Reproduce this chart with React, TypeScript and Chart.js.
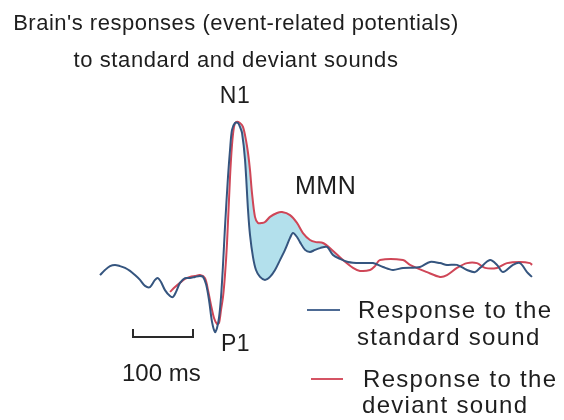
import React, { useEffect, useRef } from "react";
import { Chart, registerables } from "chart.js";

Chart.register(...registerables);

// time (ms) and amplitude (µV, negative up)
const standardTime = [-150, -141.7, -133.3, -125, -116.7, -108.3, -100, -91.7, -83.3, -75, -66.7, -58.3, -53.3, -48.3, -41.7, -33.3, -28.3, -23.3, -16.7, -8.3, 0, 8.3, 16.7, 21.7, 26.7, 31.7, 36.7, 41.7, 45, 48.3, 51.7, 55, 58.3, 63.3, 66.7, 70, 75, 80, 83.3, 86.7, 91.7, 96.7, 100, 105, 110, 116.7, 125, 133.3, 141.7, 150, 158.3, 166.7, 171.7, 178.3, 183.3, 191.7, 200, 208.3, 216.7, 228.3, 238.3, 250, 263.3, 283.3, 305, 321.7, 338.3, 355, 383.3, 400, 416.7, 428.3, 445, 461.7, 475, 483.3, 500, 511.7, 521.7, 538.3, 550, 561.7, 570];
const standardValues = [0.17, 0, -0.13, -0.17, -0.13, -0.07, 0.03, 0.17, 0.33, 0.53, 0.57, 0.33, 0.27, 0.4, 0.67, 0.87, 0.9, 0.73, 0.43, 0.27, 0.27, 0.23, 0.2, 0.23, 0.47, 1.0, 1.73, 2.07, 1.93, 1.6, 0.9, -0.17, -1.43, -3.1, -4.0, -4.67, -4.9, -4.9, -4.77, -4.57, -3.67, -2.0, -1.17, -0.43, 0, 0.23, 0.33, 0.23, 0, -0.33, -0.67, -1.07, -1.23, -1.1, -0.93, -0.67, -0.6, -0.67, -0.73, -0.77, -0.5, -0.37, -0.27, -0.23, -0.23, -0.1, 0, -0.07, -0.1, -0.27, -0.23, -0.17, -0.17, 0, 0.07, -0.07, -0.33, -0.17, 0.07, -0.17, -0.23, 0.07, 0.23];

const deviantTime = [-33.3, -25, -16.7, -8.3, 0, 8.3, 16.7, 25, 30, 35, 40, 45, 48.3, 51.7, 55, 58.3, 61.7, 66.7, 70, 73.3, 76.7, 83.3, 88.3, 93.3, 96.7, 100, 103.3, 108.3, 113.3, 120, 125, 133.3, 145, 153.3, 166.7, 178.3, 188.3, 200, 210, 221.7, 236.7, 255, 271.7, 283.3, 300, 308.3, 316.7, 355, 366.7, 395, 416.7, 428.3, 445, 461.7, 478.3, 491.7, 511.7, 528.3, 550, 566.7, 570];
const deviantValues = [0.73, 0.57, 0.43, 0.3, 0.23, 0.2, 0.17, 0.27, 0.67, 1.17, 1.6, 1.8, 1.77, 1.33, 0.9, 0.17, -0.9, -3.1, -4.17, -4.77, -4.93, -4.9, -4.77, -4.33, -3.9, -3.33, -2.57, -1.77, -1.57, -1.57, -1.6, -1.77, -1.9, -1.93, -1.83, -1.57, -1.23, -1.0, -0.93, -0.9, -0.67, -0.33, -0.07, 0.03, 0, -0.13, -0.33, -0.33, -0.17, 0.07, 0.23, 0.17, -0.07, -0.23, -0.23, -0.07, -0.07, -0.23, -0.27, -0.23, -0.17];

// MMN window (ms) shaded between the two responses
const mmnWindow = [80, 255];
const scaleBarMs = [-95, 5];

const titleLines = ["Brain's responses (event-related potentials)", "to standard and deviant sounds"];
const legendStandard = ["Response to the", "standard sound"];
const legendDeviant = ["Response to the", "deviant sound"];

const BLUE = "#35557f";
const RED = "#cf4657";
const FILL = "#b3e0ec";
const TEXT = "#1e1e1e";

function toPoints(t: number[], v: number[]) {
  return t.map((x, i) => ({ x, y: v[i] }));
}
function windowPoints(t: number[], v: number[]) {
  return toPoints(t, v).filter((p) => p.x >= mmnWindow[0] && p.x <= mmnWindow[1]);
}

const annotationPlugin = {
  id: "annotations",
  afterDraw(chart: any) {
    const ctx = chart.ctx as CanvasRenderingContext2D;
    const xs = chart.scales.x;
    const font = "'Liberation Sans', Arial, sans-serif";
    const text = (s: string, x: number, y: number, size: number, spacing: number, align: CanvasTextAlign = "left") => {
      ctx.font = `${size}px ${font}`;
      (ctx as any).letterSpacing = `${spacing}px`;
      ctx.textAlign = align;
      ctx.textBaseline = "alphabetic";
      ctx.fillStyle = TEXT;
      ctx.fillText(s, x, y);
    };
    ctx.save();
    text(titleLines[0], 236, 30, 22, 0.5, "center");
    text(titleLines[1], 236, 67, 22, 0.6, "center");
    text("N1", 235, 103, 23, 0.5, "center");
    text("MMN", 295, 194, 25, 0.5);
    text("P1", 221, 351, 23, 0.5);
    text("100 ms", 122, 381, 24, 0);

    // scale bar
    const x0 = xs.getPixelForValue(scaleBarMs[0]);
    const x1 = xs.getPixelForValue(scaleBarMs[1]);
    ctx.strokeStyle = "#2a2a2a";
    ctx.lineWidth = 2;
    ctx.beginPath();
    ctx.moveTo(x0, 329);
    ctx.lineTo(x0, 337);
    ctx.lineTo(x1, 337);
    ctx.lineTo(x1, 329);
    ctx.stroke();

    // legend
    ctx.lineWidth = 2;
    ctx.strokeStyle = "#4d6a94";
    ctx.beginPath();
    ctx.moveTo(307, 310);
    ctx.lineTo(340, 310);
    ctx.stroke();
    ctx.strokeStyle = "#d55464";
    ctx.beginPath();
    ctx.moveTo(311, 379);
    ctx.lineTo(343, 379);
    ctx.stroke();
    text(legendStandard[0], 358, 318, 24, 1.3);
    text(legendStandard[1], 357, 345, 24, 1.3);
    text(legendDeviant[0], 363, 387, 24, 1.3);
    text(legendDeviant[1], 362, 413, 24, 1.3);
    ctx.restore();
  },
};

export default function App() {
  const ref = useRef<HTMLCanvasElement>(null);
  useEffect(() => {
    if (!ref.current) return;
    const chart = new Chart(ref.current, {
      type: "line",
      data: {
        datasets: [
          {
            label: "Response to the standard sound",
            data: toPoints(standardTime, standardValues),
            borderColor: BLUE,
            borderWidth: 2,
            pointRadius: 0,
            tension: 0.3,
            fill: false,
          },
          {
            label: "Response to the deviant sound",
            data: toPoints(deviantTime, deviantValues),
            borderColor: RED,
            borderWidth: 2,
            pointRadius: 0,
            tension: 0.3,
            fill: false,
          },
          {
            label: "mmn-standard",
            data: windowPoints(standardTime, standardValues),
            borderColor: "rgba(0,0,0,0)",
            borderWidth: 0,
            pointRadius: 0,
            tension: 0.3,
            fill: false,
          },
          {
            label: "mmn-deviant",
            data: windowPoints(deviantTime, deviantValues),
            borderColor: "rgba(0,0,0,0)",
            backgroundColor: FILL,
            borderWidth: 0,
            pointRadius: 0,
            tension: 0.3,
            fill: 2,
          },
        ],
      },
      options: {
        responsive: false,
        animation: false,
        layout: { padding: 0 },
        plugins: { legend: { display: false }, title: { display: false }, tooltip: { enabled: false } },
        scales: {
          x: { type: "linear", min: -316.67, max: 623.33, display: false },
          y: { type: "linear", min: -9, max: 5, reverse: true, display: false },
        },
      },
      plugins: [annotationPlugin],
    });
    return () => chart.destroy();
  }, []);
  return (
    <div style={{ position: "fixed", left: 0, top: 0, width: 564, height: 420, background: "#fff" }}>
      <canvas ref={ref} width={564} height={420} />
    </div>
  );
}
